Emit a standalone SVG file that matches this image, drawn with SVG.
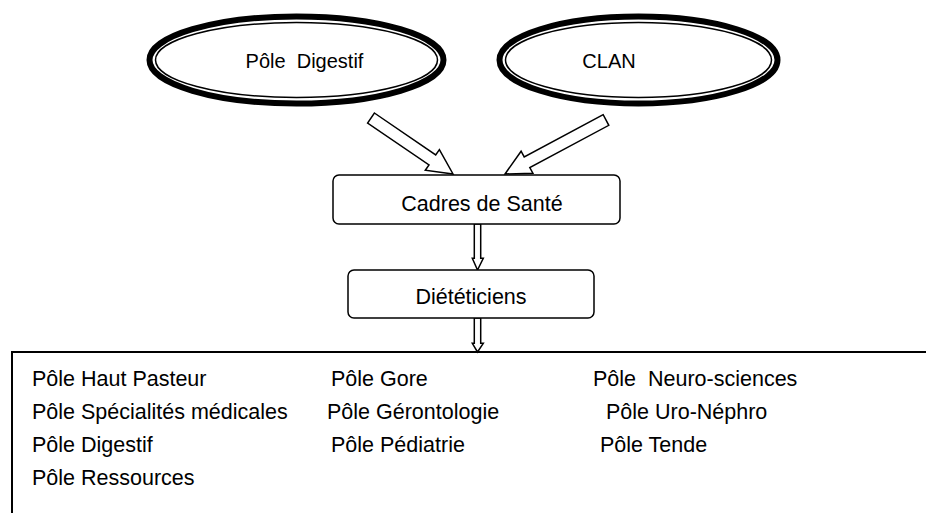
<svg xmlns="http://www.w3.org/2000/svg" width="926" height="513" viewBox="0 0 926 513">
<style>
text{font-family:"Liberation Sans",Arial,sans-serif;font-size:21.5px;fill:#000}
.big{font-size:20px}
.outer{fill:#fff;stroke:#000;stroke-width:6}
.inner{fill:none;stroke:#000;stroke-width:1.5}
.box{fill:#fff;stroke:#000;stroke-width:1.5}
.arr{fill:#fff;stroke:#000;stroke-width:1.5;stroke-linejoin:miter}
</style>
<rect width="926" height="513" fill="#fff"/>
<g id="connectors">
<polygon class="arr" points="374.4,113 435.7,154.9 439.4,149.6 453,174 425.3,170.2 429,164.9 367.6,123"/>
<polygon class="arr" points="603.2,114.7 524.2,156.9 521.1,151.2 505,174 532.9,173.2 529.8,167.5 608.8,125.3"/>
<polygon class="arr" points="474.3,224 480.7,224 480.7,258.3 483.3,258.3 477.5,270 472.3,258.3 474.3,258.3"/>
<polygon class="arr" points="474.3,318 480.7,318 480.7,343.3 483.3,343.3 477.5,352 472.3,343.3 474.3,343.3"/>
</g>
<g id="pole-digestif-top">
<ellipse class="outer" cx="296.5" cy="60" rx="147" ry="43.5"/>
<ellipse class="inner" cx="296.5" cy="60" rx="141" ry="37.5"/>
<text class="big" x="304.5" y="68" text-anchor="middle" xml:space="preserve">Pôle  Digestif</text>
</g>
<g id="clan">
<ellipse class="outer" cx="638.5" cy="60" rx="139" ry="43.5"/>
<ellipse class="inner" cx="638.5" cy="60" rx="133" ry="37.5"/>
<text class="big" x="609" y="68" text-anchor="middle">CLAN</text>
</g>
<g id="cadres">
<rect class="box" x="333" y="175" width="287" height="49" rx="6"/>
<text x="482" y="211" text-anchor="middle">Cadres de Santé</text>
</g>
<g id="dieteticiens">
<rect class="box" x="348" y="270" width="246" height="48" rx="6"/>
<text x="471" y="304" text-anchor="middle">Diététiciens</text>
</g>
<g id="poles">
<path d="M926,352 H12 V513" fill="none" stroke="#000" stroke-width="2"/>
<text x="32" y="386">Pôle Haut Pasteur</text>
<text x="331" y="386">Pôle Gore</text>
<text x="593" y="386" xml:space="preserve">Pôle  Neuro-sciences</text>
<text x="32" y="419">Pôle Spécialités médicales</text>
<text x="327" y="419">Pôle Gérontologie</text>
<text x="606" y="419">Pôle Uro-Néphro</text>
<text x="32" y="452">Pôle Digestif</text>
<text x="331" y="452">Pôle Pédiatrie</text>
<text x="600" y="452">Pôle Tende</text>
<text x="32" y="485">Pôle Ressources</text>
</g>
</svg>
